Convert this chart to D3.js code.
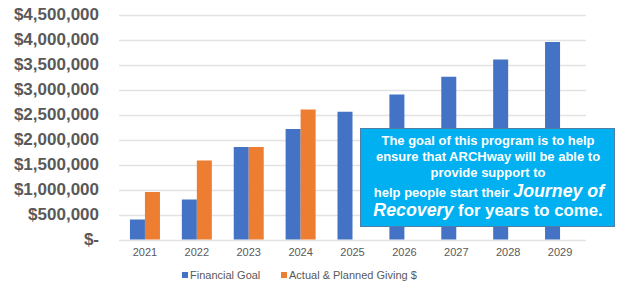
<!DOCTYPE html>
<html>
<head>
<meta charset="utf-8">
<script src="https://cdn.jsdelivr.net/npm/d3@7"></script>
<style>
  body { margin: 0; background: #fff; }
  svg { display: block; font-family: Arial, "Liberation Sans", sans-serif; }
</style>
</head>
<body>
<div id="chart"></div>
<script>
// Data
const years = ['2021', '2022', '2023', '2024', '2025', '2026', '2027', '2028', '2029'];
const financialGoal = [400000, 800000, 1850000, 2210000, 2555000, 2900000, 3255000, 3600000, 3950000];
const actualGiving = [950000, 1580000, 1850000, 2600000, null, null, null, null, null];
const seriesNames = ['Financial Goal', 'Actual & Planned Giving $'];
const yTicks = [0, 500000, 1000000, 1500000, 2000000, 2500000, 3000000, 3500000, 4000000, 4500000];

const width = 621;
const height = 283;
const colors = ['#4472C4', '#ED7D31'];

const svg = d3
  .select('#chart')
  .append('svg')
  .attr('width', width)
  .attr('height', height);

// Scales
const x = d3.scaleBand().domain(years).range([119, 586]);
const barW = 15;
const y = d3.scaleLinear().domain([0, 4500000]).range([239.5, 14.5]);

// Gridlines
svg
  .append('g')
  .selectAll('line')
  .data(yTicks)
  .enter()
  .append('line')
  .attr('x1', 119)
  .attr('x2', 586)
  .attr('y1', (d) => Math.round(y(d)) + 0.5)
  .attr('y2', (d) => Math.round(y(d)) + 0.5)
  .attr('stroke', '#e3e3e3')
  .attr('stroke-width', 1.3);

// Y axis labels
const fmt = (d) => (d === 0 ? '$-' : '$' + d3.format(',')(d));
const yAxis = d3.axisLeft(y).tickValues(yTicks).tickFormat(fmt).tickSize(0).tickPadding(20);
const yG = svg.append('g').attr('transform', 'translate(119,0)').call(yAxis);
yG.select('.domain').remove();
yG.selectAll('text')
  .attr('fill', '#595959')
  .style('font-size', '17px')
  .style('font-weight', 'bold')
  .style('font-family', 'Arial, "Liberation Sans", sans-serif');

// Bars
const bandCenter = (d) => x(d) + x.bandwidth() / 2;
svg
  .append('g')
  .selectAll('rect')
  .data(years.map((d, i) => ({ year: d, v: financialGoal[i] })))
  .enter()
  .append('rect')
  .attr('x', (d) => bandCenter(d.year) - barW)
  .attr('y', (d) => y(d.v))
  .attr('width', barW)
  .attr('height', (d) => y(0) - y(d.v))
  .attr('fill', colors[0]);

svg
  .append('g')
  .selectAll('rect')
  .data(years.map((d, i) => ({ year: d, v: actualGiving[i] })).filter((d) => d.v != null))
  .enter()
  .append('rect')
  .attr('x', (d) => bandCenter(d.year))
  .attr('y', (d) => y(d.v))
  .attr('width', barW)
  .attr('height', (d) => y(0) - y(d.v))
  .attr('fill', colors[1]);

// X axis labels
const xAxis = d3.axisBottom(x).tickSize(0).tickPadding(9);
const xG = svg.append('g').attr('transform', 'translate(0,239.5)').call(xAxis);
xG.select('.domain').remove();
xG.selectAll('text')
  .attr('fill', '#595959')
  .style('font-size', '11px')
  .style('font-family', 'Arial, "Liberation Sans", sans-serif');

// Legend
const legendX = [182, 281];
const legend = svg
  .append('g')
  .selectAll('g')
  .data(seriesNames)
  .enter()
  .append('g')
  .attr('transform', (d, i) => `translate(${legendX[i]},275)`);
legend
  .append('rect')
  .attr('x', 0)
  .attr('y', -3)
  .attr('width', 6)
  .attr('height', 6)
  .attr('fill', (d, i) => colors[i]);
legend
  .append('text')
  .attr('x', 8)
  .attr('y', 0)
  .attr('dominant-baseline', 'central')
  .attr('fill', '#595959')
  .style('font-size', '11px')
  .text((d) => d);

// Text box
const box = svg.append('g');
box
  .append('rect')
  .attr('x', 360.5)
  .attr('y', 128.5)
  .attr('width', 254)
  .attr('height', 98)
  .attr('fill', '#00B0F0')
  .attr('stroke', '#4F7FA8')
  .attr('stroke-width', 1);

const cx = 488;
const plainLines = [
  { t: 'The goal of this program is to help', y: 145 },
  { t: 'ensure that ARCHway will be able to', y: 161 },
  { t: 'provide support to', y: 177 },
];
box
  .selectAll('text.plain')
  .data(plainLines)
  .enter()
  .append('text')
  .attr('class', 'plain')
  .attr('x', cx)
  .attr('y', (d) => d.y)
  .attr('text-anchor', 'middle')
  .attr('fill', '#fff')
  .style('font-size', '13px')
  .style('font-weight', 'bold')
  .text((d) => d.t);

const l4 = box
  .append('text')
  .attr('x', cx + 1)
  .attr('y', 197)
  .attr('text-anchor', 'middle')
  .attr('fill', '#fff')
  .style('font-weight', 'bold');
l4.append('tspan').style('font-size', '13px').text('help people start their ');
l4.append('tspan').style('font-size', '17.8px').style('font-style', 'italic').text('Journey of');

const l5 = box
  .append('text')
  .attr('x', cx)
  .attr('y', 216)
  .attr('text-anchor', 'middle')
  .attr('fill', '#fff')
  .style('font-weight', 'bold');
l5.append('tspan').style('font-size', '17.8px').style('font-style', 'italic').text('Recovery');
l5.append('tspan').style('font-size', '16.8px').text(' for years to come.');
</script>
</body>
</html>
